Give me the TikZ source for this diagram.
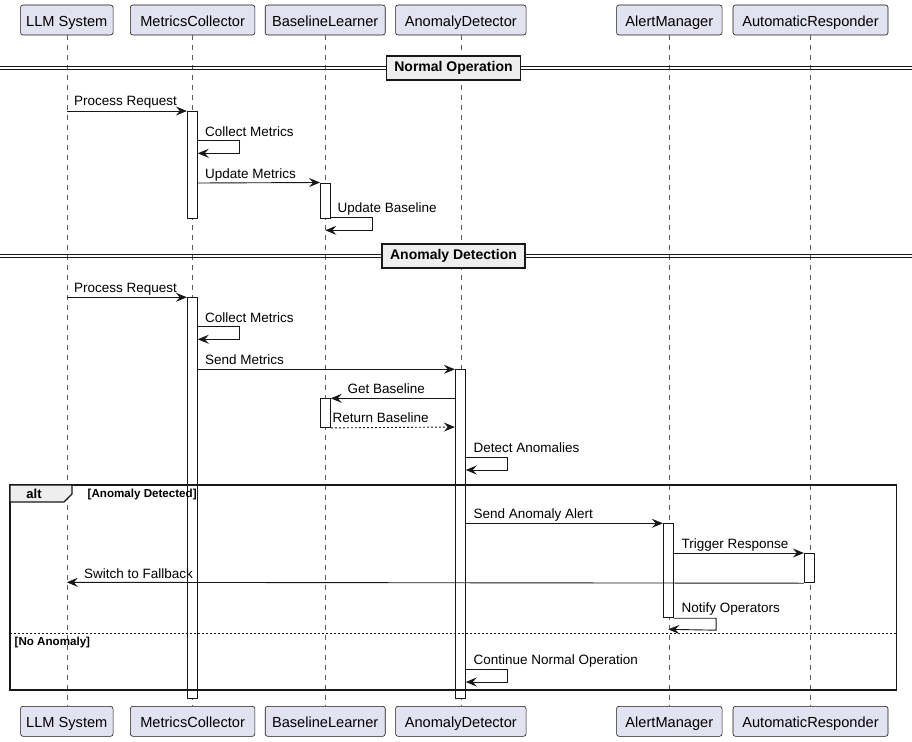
\documentclass[tikz,border=0pt]{standalone}
\usepackage{fontspec}
\setmainfont{Liberation Sans}
\usetikzlibrary{arrows.meta}
\definecolor{partfill}{HTML}{E2E2F0}
\definecolor{ink}{HTML}{181818}
\definecolor{grayfill}{HTML}{EEEEEE}
\begin{document}
\begin{tikzpicture}[x=1pt,y=-1pt,
  part/.style={draw=ink,fill=partfill,rounded corners=2.5pt,line width=0.6pt,minimum height=30pt,inner sep=0pt,text height=13pt,text depth=0pt,font=\fontsize{14.6}{16}\selectfont},
  life/.style={draw=ink!70,line width=0.6pt,dash pattern=on 5pt off 5pt},
  act/.style={draw=ink,fill=white,line width=0.9pt,minimum width=10pt,inner sep=0pt,anchor=north},
  msg/.style={draw=ink,line width=0.9pt,-{Stealth[length=11pt,width=9pt,inset=4pt]}},
  rmsg/.style={msg,dash pattern=on 2pt off 2pt},
  lbl/.style={inner sep=0pt,anchor=base west,font=\fontsize{13.5}{15}\selectfont},
  divbox/.style={draw=ink,fill=grayfill,line width=1.6pt,inner xsep=8pt,minimum height=24pt,text height=10pt,text depth=3pt,font=\bfseries\fontsize{14}{16}\selectfont},
  guard/.style={inner sep=0pt,anchor=base west,font=\bfseries\fontsize{11.6}{13}\selectfont}
]
\useasboundingbox[fill=white] (0,0) rectangle (912,741);

% participants
\foreach \n/\t/\x/\w in {llm/LLM System/66.8/92.5, mc/MetricsCollector/192.6/124.5, bl/BaselineLearner/325.2/120, ad/AnomalyDetector/460.8/130.5, am/AlertManager/669.3/105.5, ar/AutomaticResponder/810.5/155}{
  \node[part,minimum width=\w pt] (\n T) at (\x,20) {\t};
  \node[part,minimum width=\w pt] (\n B) at (\x,721.3) {\t};
  \draw[life] (\n T.south) -- (\n B.north);
}

% dividers
\foreach \nm/\y/\t in {dA/68/Normal Operation, dB/256/Anomaly Detection}{
  \coordinate (\nm L) at (0,\y);
  \coordinate (\nm R) at (912,\y);
  \draw[ink,line width=0.9pt] ([yshift=-1.6pt]\nm L) -- ([yshift=-1.6pt]\nm R);
  \draw[ink,line width=0.9pt] ([yshift=1.6pt]\nm L) -- ([yshift=1.6pt]\nm R);
  \node[divbox] (\nm) at (453.5,\y) {\t};
}

% activation bars
\node[act,minimum height=107.3pt] (mc1) at (192.3,111) {};
\node[act,minimum height=35.8pt] (bl1) at (325.5,182.5) {};
\node[act,minimum height=400.4pt] (mc2) at (192.3,297.3) {};
\node[act,minimum height=328.4pt] (ad1) at (460.3,369.3) {};
\node[act,minimum height=28.7pt] (bl2) at (325.3,398.3) {};
\node[act,minimum height=94pt] (am1) at (668.3,523.3) {};
\node[act,minimum height=29.3pt] (ar1) at (809.3,553) {};

% alt frame
\coordinate (fTL) at (10,485);
\coordinate (fBR) at (896.5,690);
\draw[ink,line width=1.6pt] (fTL) rectangle (fBR);
\draw[ink,fill=grayfill,line width=1.2pt] (fTL) -- (72,485) -- (72,494) -- (64,502) -- (10,502) -- cycle;
\node[inner sep=0pt,font=\bfseries\fontsize{13}{14}\selectfont] (altlbl) at (34,494) {alt};
\node[guard] (g1) at (87.5,497.5) {[Anomaly Detected]};
\draw[ink,line width=0.9pt,dash pattern=on 2pt off 2pt] (10,633.3) coordinate (sepL) -- (896.5,633.3) coordinate (sepR);
\node[guard] (g2) at (14.5,645) {[No Anomaly]};

% Normal Operation
\coordinate (m1s) at (66.8,111);
\draw[msg] (m1s) -- (mc1.north west);
\node[lbl] (l1) at (74,106) {Process Request};

\draw[msg] ([yshift=-29.7pt]mc1.north east) -- ++(42,0) -- ++(0,12.6) coordinate (c1) -- ([yshift=-42.3pt]mc1.north east);
\node[lbl] (l2) at (205,136) {Collect Metrics};

\coordinate (m3s) at ([yshift=-72pt]mc1.north east);
\draw[msg] (m3s) -- (bl1.north west);
\node[lbl] (l3) at (205,178) {Update Metrics};

\coordinate (bll) at (325.3,230.3);
\draw[msg] ([yshift=-34.5pt]bl1.north east) -- ++(41.5,0) -- ++(0,13.3) -- (bll);
\node[lbl] (l4) at (337.5,212) {Update Baseline};

% Anomaly Detection
\coordinate (m5s) at (66.8,297.3);
\draw[msg] (m5s) -- (mc2.north west);
\node[lbl] (l5) at (74,292.5) {Process Request};

\draw[msg] ([yshift=-29.4pt]mc2.north east) -- ++(42,0) -- ++(0,12.6) -- ([yshift=-42pt]mc2.north east);
\node[lbl] (l6) at (205,322) {Collect Metrics};

\coordinate (m7s) at ([yshift=-72pt]mc2.north east);
\draw[msg] (m7s) -- (ad1.north west);
\node[lbl] (l7) at (205,364.5) {Send Metrics};

\coordinate (m8s) at ([yshift=-29pt]ad1.north west);
\draw[msg] (m8s) -- (bl2.north east);
\node[lbl] (l8) at (347.3,393.8) {Get Baseline};

\coordinate (m9e) at ([yshift=-57.7pt]ad1.north west);
\draw[rmsg] (bl2.south east) -- (m9e);
\node[lbl] (l9) at (332.5,422.5) {Return Baseline};

\draw[msg] ([yshift=-88pt]ad1.north east) -- ++(42,0) -- ++(0,12.7) -- ([yshift=-100.7pt]ad1.north east);
\node[lbl] (l10) at (473.3,452.5) {Detect Anomalies};

\coordinate (m11s) at ([yshift=-154pt]ad1.north east);
\draw[msg] (m11s) -- (am1.north west);
\node[lbl] (l11) at (473.3,518.5) {Send Anomaly Alert};

\coordinate (m12s) at ([yshift=-29.7pt]am1.north east);
\draw[msg] (m12s) -- (ar1.north west);
\node[lbl] (l12) at (681.3,548.3) {Trigger Response};

\coordinate (m13e) at (66.8,582.3);
\draw[msg] (ar1.south west) -- (m13e);
\node[lbl] (l13) at (84,578) {Switch to Fallback};

\coordinate (aml) at (668.3,629.3);
\draw[msg] (am1.south east) -- ++(42.4,0) -- ++(0,12) -- (aml);
\node[lbl] (l14) at (681.3,612) {Notify Operators};

\draw[msg] ([yshift=-300pt]ad1.north east) -- ++(42,0) -- ++(0,12.7) -- ([yshift=-312.7pt]ad1.north east);
\node[lbl] (l15) at (473.3,664.5) {Continue Normal Operation};
\end{tikzpicture}
\end{document}
